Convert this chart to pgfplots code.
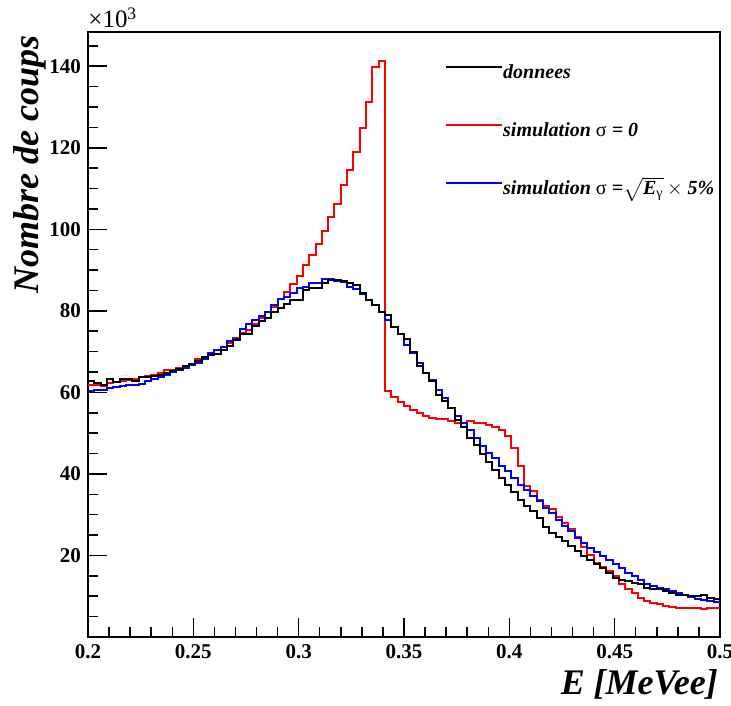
\documentclass[border=0pt]{standalone}
\usepackage{pgfplots}
\pgfplotsset{compat=1.18}
\usepackage{pgfplotstable}
\usepackage{amsmath}
\usepackage{fontspec}
\setmainfont{Liberation Serif}

\pgfplotstableread{
x d s0 s5
0.200 62.8 61.8 60.4
0.203 62.3 61.8 60.5
0.206 61.8 61.6 60.5
0.209 63.3 62.3 61.1
0.212 62.6 62.6 61.3
0.215 63.4 62.9 61.6
0.218 63.4 63.1 61.7
0.221 62.9 63.4 61.9
0.224 63.8 63.8 62.1
0.227 63.8 64.1 62.8
0.230 64.1 64.2 63.3
0.233 64.2 64.7 63.8
0.236 64.7 65.4 64.3
0.239 65.2 65.4 64.9
0.242 65.7 66.0 65.4
0.245 66.4 66.4 66.0
0.248 67.0 67.0 66.6
0.251 67.7 68.2 67.3
0.254 68.6 68.8 68.3
0.257 69.2 69.6 69.6
0.260 69.4 70.5 70.3
0.263 70.3 71.2 71.1
0.266 71.5 72.2 72.5
0.269 72.9 73.3 73.1
0.272 74.2 74.5 75.5
0.275 74.3 75.2 76.7
0.278 76.2 76.7 77.8
0.281 77.4 78.2 78.8
0.284 78.2 79.8 79.8
0.287 79.8 81.0 81.5
0.290 80.6 82.8 82.9
0.293 81.6 84.7 83.5
0.296 82.7 86.5 84.3
0.299 82.7 88.6 85.5
0.302 85.1 91.2 85.9
0.305 85.5 93.6 86.9
0.308 85.5 96.3 86.8
0.311 86.8 99.7 87.7
0.314 87.6 103.1 87.7
0.317 87.6 106.2 87.4
0.320 87.2 110.9 87.0
0.323 86.8 114.5 85.9
0.326 86.4 119.0 85.3
0.329 84.3 124.9 84.1
0.332 82.7 131.3 82.7
0.335 81.5 139.7 81.5
0.338 79.8 141.3 79.6
0.341 79.0 60.3 77.8
0.344 76.1 58.8 76.1
0.347 74.4 57.6 74.2
0.350 73.1 56.6 71.7
0.353 69.8 55.6 69.7
0.356 66.5 54.9 67.2
0.359 64.7 54.1 64.7
0.362 62.7 53.7 63.1
0.365 59.4 53.5 60.6
0.368 58.0 53.5 58.6
0.371 56.2 52.9 56.2
0.374 53.3 52.6 54.1
0.377 51.5 52.6 52.6
0.380 48.8 52.9 50.7
0.383 47.2 52.5 48.8
0.386 45.0 52.6 46.8
0.389 43.0 52.1 45.1
0.392 41.0 51.5 43.9
0.395 39.0 50.8 41.9
0.398 37.4 49.2 40.6
0.401 35.5 46.4 39.0
0.404 33.7 41.9 37.4
0.407 32.2 37.1 36.1
0.410 30.8 35.7 34.5
0.413 29.2 33.7 33.3
0.416 27.0 32.1 31.7
0.419 25.5 31.3 30.4
0.422 24.6 29.5 28.6
0.425 23.5 28.0 27.3
0.428 22.3 26.4 25.9
0.431 21.0 24.6 24.3
0.434 19.8 22.1 23.1
0.437 18.8 20.0 21.9
0.440 17.8 18.2 20.8
0.443 17.0 17.1 19.8
0.446 15.8 16.2 18.8
0.449 14.5 15.0 18.0
0.452 14.1 12.9 17.0
0.455 13.7 11.7 15.7
0.458 13.3 10.7 14.9
0.461 12.9 9.6 13.9
0.464 12.1 8.8 13.1
0.467 11.7 8.4 12.5
0.470 11.7 8.0 12.1
0.473 11.2 7.6 11.7
0.476 10.8 7.4 11.2
0.479 10.4 7.2 10.7
0.482 10.2 7.2 10.2
0.485 10.1 7.2 9.9
0.488 10.1 7.0 9.4
0.491 10.2 6.9 9.0
0.494 9.6 7.0 8.8
0.497 9.4 7.2 8.5
0.500 9.4 7.2 8.5
}\histdata

\begin{document}
\begin{tikzpicture}
\path[use as bounding box] (-44pt,-34pt) rectangle (321.5pt,318.5pt);
\begin{axis}[
  name=ax,
  at={(0,0)}, anchor=south west,
  scale only axis, width=316pt, height=302.5pt,
  xmin=0.2, xmax=0.5, ymin=0, ymax=148.4,
  axis line style={line width=1pt},
  tick pos=left, tick align=inside,
  xtick={0.2,0.25,0.3,0.35,0.4,0.45,0.5},
  xticklabels={0.2,0.25,0.3,0.35,0.4,0.45,0.5},
  minor xtick={0.21,0.22,0.23,0.24,0.26,0.27,0.28,0.29,0.31,0.32,0.33,0.34,0.36,0.37,0.38,0.39,0.41,0.42,0.43,0.44,0.46,0.47,0.48,0.49},
  ytick={20,40,60,80,100,120,140},
  minor ytick={5,10,15,25,30,35,45,50,55,65,70,75,85,90,95,105,110,115,125,130,135,145},
  major tick length=9.5pt, minor tick length=4.8pt,
  every tick/.style={line width=0.75pt, black},
  ticklabel style={font=\bfseries\fontsize{10.5}{12}\selectfont, black},
  /pgf/number format/assume math mode=true,
  xlabel={E [MeVee]},
  ylabel={Nombre de coups},
  xlabel style={at={(axis description cs:0.997,-0.079)}, anchor=east, inner sep=0pt, font=\bfseries\itshape\fontsize{18}{20}\selectfont},
  ylabel style={at={(axis description cs:-0.092,0.995)}, anchor=east, inner sep=0pt, font=\bfseries\itshape\fontsize{18}{20}\selectfont},
  legend style={draw=none, fill=none, at={(axis description cs:0.555,0.957)}, anchor=north west,
    font=\bfseries\itshape\fontsize{10}{12}\selectfont, row sep=18pt,
    nodes={inner sep=0pt, text height=8pt, text depth=3pt}},
  legend cell align=left,
  legend image code/.code={\path (0pt,3pt) -- (28pt,3pt); \draw[#1] (0pt,3pt) -- (22.5pt,3pt);},
]
\addplot[red, line width=1pt, const plot mark left, forget plot] table[x=x, y=s0] {\histdata};
\addplot[blue, line width=1pt, const plot mark left, forget plot] table[x=x, y=s5] {\histdata};
\addplot[black, line width=1pt, const plot mark left, forget plot] table[x=x, y=d] {\histdata};
\addlegendimage{black, line width=1pt}
\addlegendentry{donnees}
\addlegendimage{red, line width=1pt}
\addlegendentry{simulation {\upshape\mdseries σ} = 0}
\addlegendimage{blue, line width=1pt}
\addlegendentry{simulation {\upshape\mdseries σ} =$\sqrt{\text{\bfseries\itshape E}_{\text{\upshape\mdseries γ}}}\,\times$ 5\%}
\end{axis}
\node[anchor=base west, inner sep=0pt, font=\fontsize{12.5}{14}\selectfont] at ([yshift=2pt]ax.north west) {×10\textsuperscript{3}};
\end{tikzpicture}
\end{document}
